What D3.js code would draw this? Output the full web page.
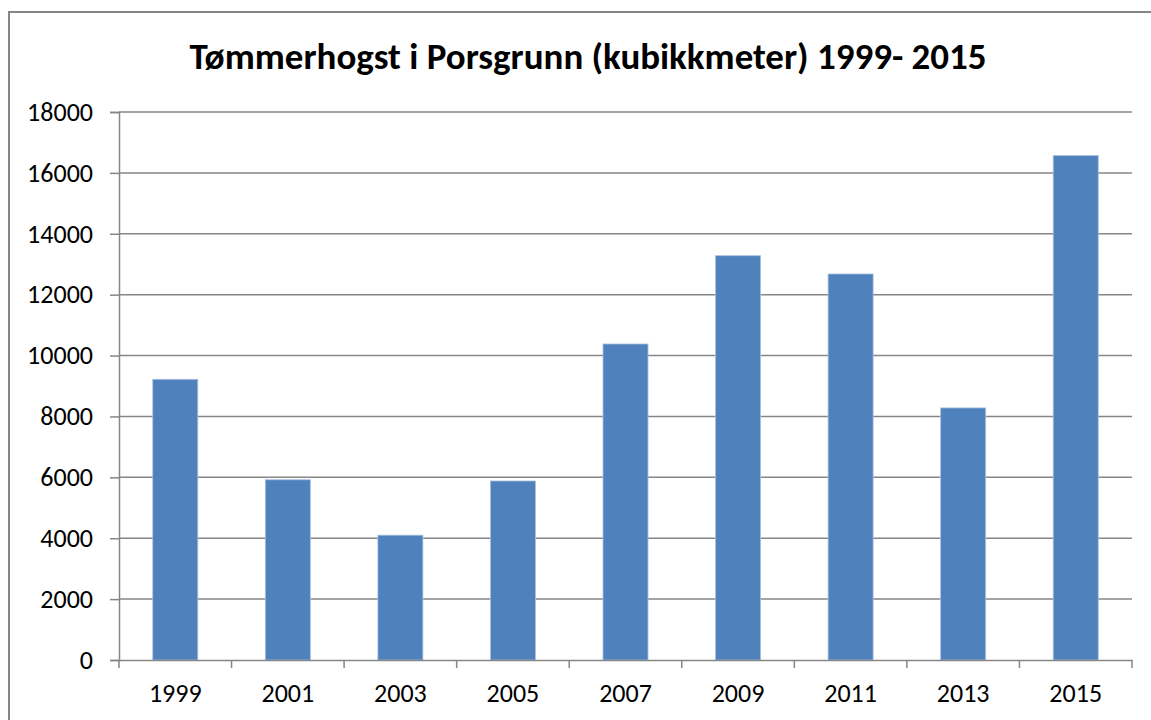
<!DOCTYPE html>
<html>
<head>
<meta charset="utf-8">
<script src="https://cdn.jsdelivr.net/npm/d3@7"></script>
<style>
  html, body { margin: 0; padding: 0; background: #ffffff; }
  svg { display: block; }
  text { font-family: Carlito, Calibri, "Open Sans", sans-serif; fill: #000; }
</style>
</head>
<body>
<svg id="chart" width="1151" height="720"></svg>
<script>
const titleText = "Tømmerhogst i Porsgrunn (kubikkmeter) 1999- 2015";
const years = ["1999", "2001", "2003", "2005", "2007", "2009", "2011", "2013", "2015"];
const values = [9220, 5920, 4100, 5880, 10380, 13280, 12680, 8280, 16570];
const yTicks = [0, 2000, 4000, 6000, 8000, 10000, 12000, 14000, 16000, 18000];

(function () {
const svg = d3.select("#chart");
const W = 1151, H = 720;
const mLeft = 119, mRight = 1132, mTop = 112, mBottom = 660;
const gridColor = "#868686";

svg.append("rect").attr("width", W).attr("height", H).attr("fill", "#fff");
// outer chart frame
svg.append("rect")
  .attr("x", 9).attr("y", 12).attr("width", W + 20).attr("height", H + 20)
  .attr("fill", "none").attr("stroke", gridColor).attr("stroke-width", 2);

const x = d3.scaleBand().domain(years).range([mLeft, mRight]).paddingInner(0.6).paddingOuter(0.3);
const y = d3.scaleLinear().domain([0, 18000]).range([mBottom, mTop]);

// gridlines
svg.append("g").selectAll("line").data(yTicks.filter(d => d > 0)).join("line")
  .attr("x1", mLeft).attr("x2", mRight)
  .attr("y1", d => y(d)).attr("y2", d => y(d))
  .attr("stroke", gridColor).attr("stroke-width", 1.5);

// bars
svg.append("g").selectAll("rect").data(years).join("rect")
  .attr("x", (d) => x(d))
  .attr("y", (d, i) => y(values[i]))
  .attr("width", x.bandwidth())
  .attr("height", (d, i) => y(0) - y(values[i]))
  .attr("fill", "#4F81BD")
  .attr("stroke", "#a9c1e0").attr("stroke-width", 0.8);

// y axis
const yAxis = d3.axisLeft(y).tickValues(yTicks).tickSize(9).tickPadding(17).tickFormat(d3.format("d"));
const gy = svg.append("g").attr("transform", `translate(${mLeft},0)`).call(yAxis);
gy.select(".domain").attr("stroke", gridColor).attr("stroke-width", 1.5);
gy.selectAll(".tick line").attr("stroke", gridColor).attr("stroke-width", 1.5);
gy.selectAll(".tick text").attr("font-size", 26).attr("font-family", null).attr("fill", "#000");

// x axis
const xAxis = d3.axisBottom(x).tickSize(0).tickPadding(24);
const gx = svg.append("g").attr("transform", `translate(0,${mBottom})`).call(xAxis);
gx.select(".domain").attr("stroke", gridColor).attr("stroke-width", 1.5);
gx.selectAll(".tick text").attr("font-size", 26).attr("font-family", null).attr("fill", "#000");
// category boundary ticks
const bounds = years.map(d => x(d) - x.step() * x.paddingInner() / 2).concat([mRight]);
gx.selectAll(".bound").data(bounds).join("line").attr("class", "bound")
  .attr("x1", d => d).attr("x2", d => d).attr("y1", 0).attr("y2", 8)
  .attr("stroke", gridColor).attr("stroke-width", 1.5);

// title
const t = svg.append("text")
  .attr("x", 588).attr("y", 69)
  .attr("text-anchor", "middle")
  .attr("font-size", 37).attr("font-weight", "bold")
  .text(titleText);
const target = 797;
const len = t.node().getComputedTextLength();
if (len > target) t.attr("textLength", target).attr("lengthAdjust", "spacingAndGlyphs");
})();
</script>
</body>
</html>
